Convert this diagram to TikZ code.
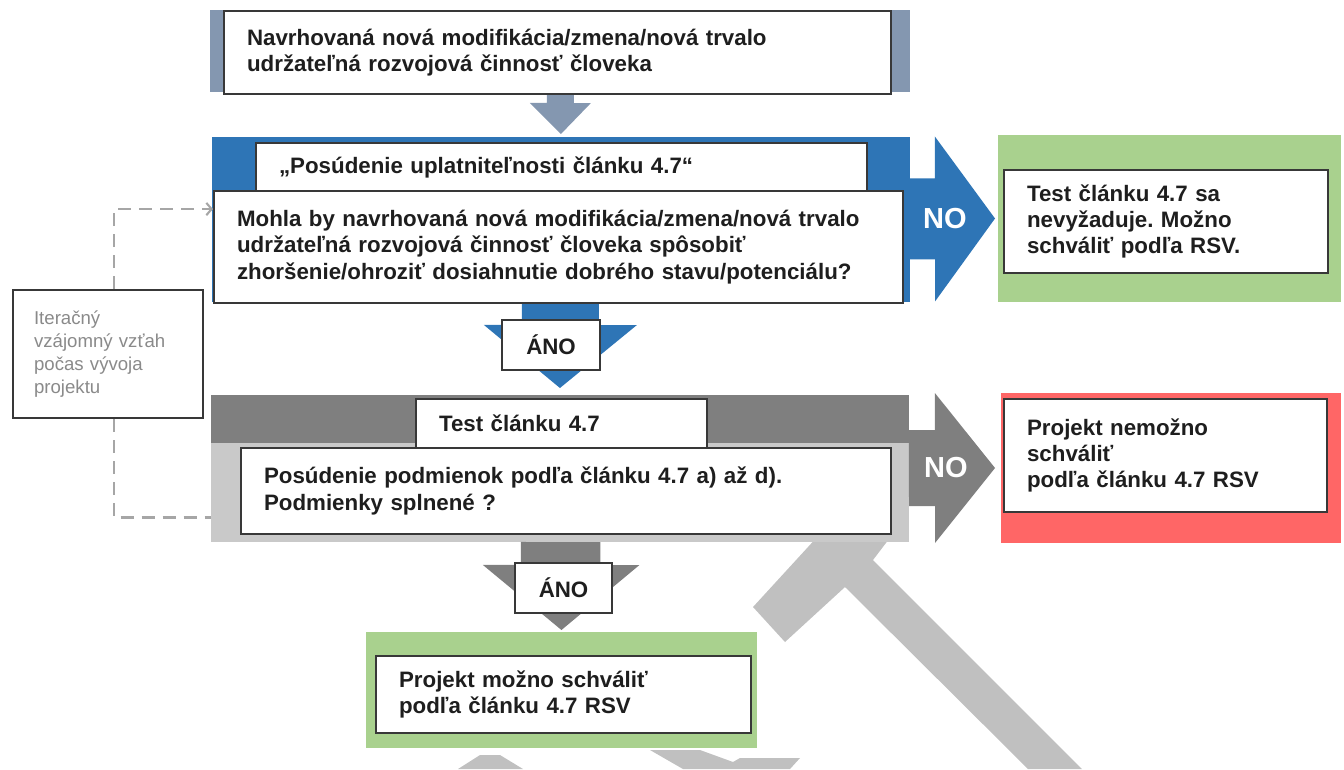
\documentclass[tikz,border=0pt]{standalone}
\usepackage{fontspec}
\setmainfont{Liberation Sans}
\usepackage{tikz}
\usetikzlibrary{arrows.meta,positioning,calc}
\frenchspacing
\definecolor{ink}{HTML}{1E1E1E}
\definecolor{boxline}{HTML}{383838}
\definecolor{topfill}{HTML}{8497B0}
\definecolor{bluefill}{HTML}{2E75B6}
\definecolor{darkfill}{HTML}{7F7F7F}
\definecolor{lightfill}{HTML}{C9C9C9}
\definecolor{greenfill}{HTML}{A9D18E}
\definecolor{redfill}{HTML}{FF6666}
\definecolor{wmgray}{HTML}{C0C0C0}
\definecolor{itertext}{HTML}{8A8A8A}
\definecolor{dashgray}{HTML}{A6A6A6}
\tikzset{
  bgbox/.style={rectangle,anchor=north west,inner sep=0pt,outer sep=0pt},
  flowbox/.style={rectangle,draw=boxline,line width=1.2pt,fill=white,text=ink,
    anchor=north west,align=left,inner xsep=0.46cm,inner ysep=0pt,
    font=\fontsize{12.7}{15}\selectfont\bfseries},
  anobox/.style={rectangle,draw=boxline,line width=1.2pt,fill=white,text=ink,
    anchor=north west,inner sep=0pt,font=\fontsize{12.7}{15}\selectfont\bfseries},
  iterbox/.style={rectangle,draw=boxline,line width=1.2pt,fill=white,text=itertext,
    anchor=north west,align=left,inner xsep=0.42cm,inner ysep=0pt,
    font=\fontsize{10.6}{13.2}\selectfont},
  notext/.style={text=white,font=\fontsize{16.5}{18}\selectfont\bfseries,inner sep=0pt},
  iterline/.style={dashgray,line width=1.2pt,dash pattern=on 0.26cm off 0.16cm},
  iterarr/.style={iterline,-{Straight Barb[length=3pt,width=7pt]}},
}
\begin{document}
\begin{tikzpicture}[x=0.02cm, y=-0.02cm]
  \useasboundingbox (0,0) rectangle (1344,769);

  % grey shapes in the background
  \fill[wmgray] (819,535) -- (892,535) -- (873,560) -- (1082,769) -- (1028,769)
    -- (845,587) -- (785,642) -- (753,607) -- cycle;
  \fill[wmgray] (458,769) -- (480,755) -- (500,755) -- (523,769) -- cycle;
  \fill[wmgray] (650,750) -- (700,750) -- (733,762) -- (740,758) -- (800,758)
    -- (790,769) -- (683,769) -- cycle;

  % coloured panels
  \node[bgbox,fill=topfill,minimum width=14cm,minimum height=1.64cm] (topbg) at (210,10) {};
  \node[bgbox,fill=bluefill,minimum width=13.96cm,minimum height=3.3cm] (bluebg) at (212,137) {};
  \node[bgbox,fill=darkfill,minimum width=13.96cm,minimum height=0.96cm] (darkbg) at (211,395) {};
  \node[bgbox,fill=lightfill,minimum width=13.96cm,minimum height=1.98cm] (lightbg) at (211,443) {};
  \node[bgbox,fill=greenfill,minimum width=6.86cm,minimum height=3.34cm] (green1bg) at (998,135) {};
  \node[bgbox,fill=redfill,minimum width=6.8cm,minimum height=3cm] (redbg) at (1001,393) {};
  \node[bgbox,fill=greenfill,minimum width=7.82cm,minimum height=2.32cm] (green2bg) at (366,632) {};

  % block arrows
  \fill[topfill] ($(topbg.south)+(-13,0)$) -- ++(0,11) -- ++(-17,0)
    -- ($(bluebg.north)+(0,-3)$) -- ++(30,-31) -- ++(-17,0) -- ++(0,-11) -- cycle;
  \fill[bluefill] ($(bluebg.east)+(0,-41)$) -- ++(25,0) -- ++(0,-42)
    -- ($(green1bg.west)+(-3,0)$) -- ++(-60,83) -- ++(0,-42) -- ++(-25,0) -- cycle;
  \fill[bluefill] ($(bluebg.south)+(-39,0)$) -- ++(0,23) -- ++(-38,0)
    -- ($(darkbg.north)+(0,-7)$) -- ++(77,-63) -- ++(-38,0) -- ++(0,-23) -- cycle;
  \fill[darkfill] ($(lightbg.east |- redbg.west)+(0,-38)$) -- ++(26,0) -- ++(0,-37)
    -- ($(redbg.west)+(-6,0)$) -- ++(-60,75) -- ++(0,-37) -- ++(-26,0) -- cycle;
  \fill[darkfill] ($(lightbg.south)+(-39,0)$) -- ++(0,23) -- ++(-38,0)
    -- ($(green2bg.north)+(0,-2)$) -- ++(78,-65) -- ++(-39,0) -- ++(0,-23) -- cycle;

  \node[notext] (noblue) at ($(bluebg.east)!0.5!(green1bg.west)+(-9,0)$) {NO};
  \node[notext] (nogray) at ($(lightbg.east |- redbg.west)!0.5!(redbg.west)+(-9,0)$) {NO};

  % boxes
  \node[flowbox,text width=12.42cm,minimum height=1.66cm] (topbox) at (223,10)
    {Navrhovaná nová modifikácia/zmena/nová trvalo\\udržateľná rozvojová činnosť človeka};
  \node[flowbox,text width=11.3cm,minimum height=0.96cm] (bluetitle) at (255,142)
    {„Posúdenie uplatniteľnosti článku 4.7“};
  \node[flowbox,text width=12.86cm,minimum height=2.24cm] (blueq) at (213,190)
    {Mohla by navrhovaná nová modifikácia/zmena/nová trvalo\\udržateľná rozvojová činnosť človeka spôsobiť\\zhoršenie/ohroziť dosiahnutie dobrého stavu/potenciálu?};
  \node[iterbox,text width=2.96cm,minimum height=2.56cm] (iter) at (12,289)
    {Iteračný\\vzájomný vzťah\\počas vývoja\\projektu};
  \node[flowbox,text width=4.9cm,minimum height=0.98cm] (graytitle) at (415,398)
    {Test článku 4.7};
  \node[flowbox,text width=12.08cm,minimum height=1.72cm] (grayq) at (240,447)
    {Posúdenie podmienok podľa článku 4.7 a) až d).\\Podmienky splnené ?};
  \node[flowbox,text width=5.56cm,minimum height=2.06cm] (green1box) at (1003,169)
    {Test článku 4.7 sa\\nevyžaduje. Možno\\schváliť podľa RSV.};
  \node[flowbox,text width=5.54cm,minimum height=2.26cm] (redbox) at (1003,398)
    {Projekt nemožno\\schváliť\\podľa článku 4.7 RSV};
  \node[flowbox,text width=6.58cm,minimum height=1.54cm] (green2box) at (375,655)
    {Projekt možno schváliť\\podľa článku 4.7 RSV};
  \node[anobox,minimum width=1.96cm,minimum height=1cm] (ano1) at (501,319) {ÁNO};
  \node[anobox,minimum width=1.94cm,minimum height=1cm] (ano2) at (514,562) {ÁNO};

  % iteration loop
  \draw[iterarr] ([xshift=0.12cm]iter.north) |- ($(blueq.west)+(0,-38)$);
  \draw[iterline] ([xshift=0.12cm]iter.south) |- ($(lightbg.west)+(0,25)$);
\end{tikzpicture}
\end{document}
